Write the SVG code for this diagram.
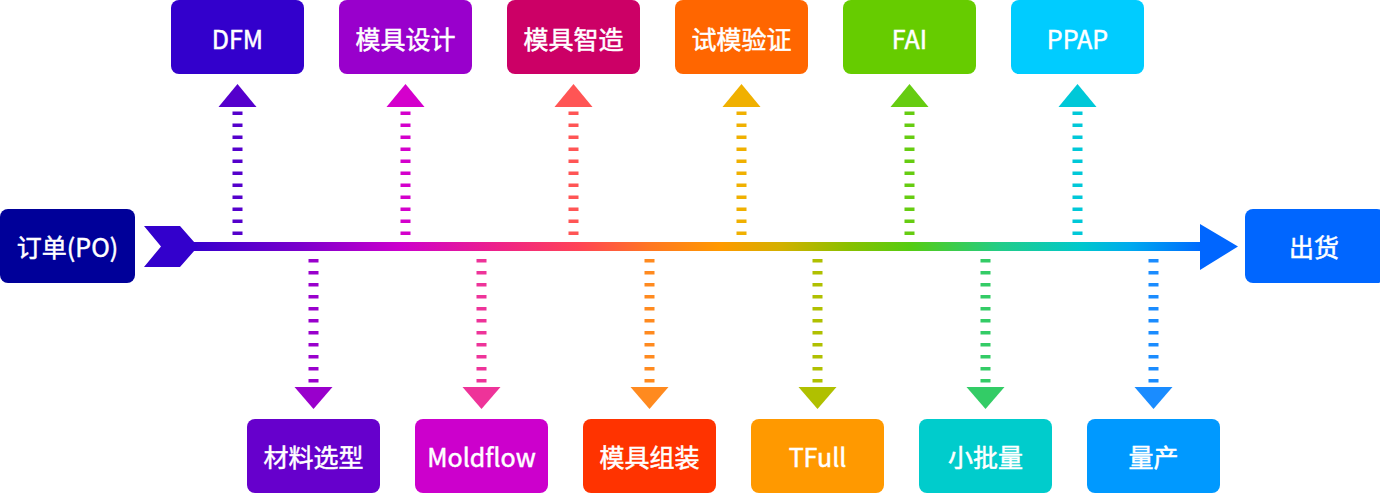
<svg xmlns="http://www.w3.org/2000/svg" width="1380" height="494" viewBox="0 0 1380 494">
<style>
.lbl{font-family:"Noto Sans CJK SC","Noto Sans",sans-serif;font-size:25px;font-weight:400;fill:#fff;stroke:#fff;stroke-width:0.5;text-anchor:middle;dominant-baseline:central}
.dash{fill:none;stroke-width:10;stroke-dasharray:3.5 8.5}
</style>
<defs>
<linearGradient id="main" gradientUnits="userSpaceOnUse" x1="190" y1="0" x2="1205" y2="0">
<stop offset="0" stop-color="#3300cc"/>
<stop offset="0.108" stop-color="#7a00cc"/>
<stop offset="0.207" stop-color="#cc00cc"/>
<stop offset="0.305" stop-color="#ee2288"/>
<stop offset="0.384" stop-color="#ff4455"/>
<stop offset="0.453" stop-color="#ff7722"/>
<stop offset="0.522" stop-color="#ff9900"/>
<stop offset="0.581" stop-color="#d4b000"/>
<stop offset="0.650" stop-color="#88c000"/>
<stop offset="0.709" stop-color="#55cc11"/>
<stop offset="0.798" stop-color="#22cc88"/>
<stop offset="0.877" stop-color="#00c8cc"/>
<stop offset="0.926" stop-color="#00aaee"/>
<stop offset="1" stop-color="#0066ff"/>
</linearGradient>
</defs>

<g id="connectors">
<rect x="190" y="242" width="1015" height="9" fill="url(#main)"/>
<polygon points="144,226 180,226 198,246.5 180,267 144,267 161,246.5" fill="#3300cc"/>
<polygon points="1200,224 1238,246.5 1200,270" fill="#0066ff"/>
<g>
<line class="dash" x1="237.5" y1="235" x2="237.5" y2="111" stroke="#5500cc"/>
<polygon points="237.5,84 256.5,107 218.5,107" fill="#5500cc"/>
<line class="dash" x1="405.5" y1="235" x2="405.5" y2="111" stroke="#d400cc"/>
<polygon points="405.5,84 424.5,107 386.5,107" fill="#d400cc"/>
<line class="dash" x1="573.5" y1="235" x2="573.5" y2="111" stroke="#ff5555"/>
<polygon points="573.5,84 592.5,107 554.5,107" fill="#ff5555"/>
<line class="dash" x1="741.5" y1="235" x2="741.5" y2="111" stroke="#f0b000"/>
<polygon points="741.5,84 760.5,107 722.5,107" fill="#f0b000"/>
<line class="dash" x1="909.5" y1="235" x2="909.5" y2="111" stroke="#66cc11"/>
<polygon points="909.5,84 928.5,107 890.5,107" fill="#66cc11"/>
<line class="dash" x1="1077.5" y1="235" x2="1077.5" y2="111" stroke="#00c8d8"/>
<polygon points="1077.5,84 1096.5,107 1058.5,107" fill="#00c8d8"/>
</g>
<g>
<line class="dash" x1="313.5" y1="259" x2="313.5" y2="383" stroke="#9900cc"/>
<polygon points="294.5,387 332.5,387 313.5,409" fill="#9900cc"/>
<line class="dash" x1="481.5" y1="259" x2="481.5" y2="383" stroke="#ee3399"/>
<polygon points="462.5,387 500.5,387 481.5,409" fill="#ee3399"/>
<line class="dash" x1="649.5" y1="259" x2="649.5" y2="383" stroke="#ff8a1f"/>
<polygon points="630.5,387 668.5,387 649.5,409" fill="#ff8a1f"/>
<line class="dash" x1="817.5" y1="259" x2="817.5" y2="383" stroke="#b0c000"/>
<polygon points="798.5,387 836.5,387 817.5,409" fill="#b0c000"/>
<line class="dash" x1="985.5" y1="259" x2="985.5" y2="383" stroke="#33cc66"/>
<polygon points="966.5,387 1004.5,387 985.5,409" fill="#33cc66"/>
<line class="dash" x1="1153.5" y1="259" x2="1153.5" y2="383" stroke="#1a8cff"/>
<polygon points="1134.5,387 1172.5,387 1153.5,409" fill="#1a8cff"/>
</g>
</g>

<g id="po"><rect x="0" y="209" width="135" height="74" rx="8" fill="#000099"/><text class="lbl" x="67.5" y="246">订单(PO)</text></g>
<g id="ship"><rect x="1245" y="209" width="140" height="74" rx="8" fill="#0066ff"/><text class="lbl" x="1314" y="246">出货</text></g>

<g id="dfm"><rect x="171" y="0" width="133" height="74" rx="8" fill="#3300cc"/><text class="lbl" x="237.5" y="38">DFM</text></g>
<g id="design"><rect x="339" y="0" width="133" height="74" rx="8" fill="#9900cc"/><text class="lbl" x="405.5" y="38">模具设计</text></g>
<g id="make"><rect x="507" y="0" width="133" height="74" rx="8" fill="#cc0066"/><text class="lbl" x="573.5" y="38">模具智造</text></g>
<g id="trial"><rect x="675" y="0" width="133" height="74" rx="8" fill="#ff6600"/><text class="lbl" x="741.5" y="38">试模验证</text></g>
<g id="fai"><rect x="843" y="0" width="133" height="74" rx="8" fill="#66cc00"/><text class="lbl" x="909.5" y="38">FAI</text></g>
<g id="ppap"><rect x="1011" y="0" width="133" height="74" rx="8" fill="#00ccff"/><text class="lbl" x="1077.5" y="38">PPAP</text></g>

<g id="material"><rect x="247" y="419" width="133" height="74" rx="8" fill="#6600cc"/><text class="lbl" x="313.5" y="456">材料选型</text></g>
<g id="moldflow"><rect x="415" y="419" width="133" height="74" rx="8" fill="#cc00cc"/><text class="lbl" x="481.5" y="456">Moldflow</text></g>
<g id="assembly"><rect x="583" y="419" width="133" height="74" rx="8" fill="#ff3300"/><text class="lbl" x="649.5" y="456">模具组装</text></g>
<g id="tfull"><rect x="751" y="419" width="133" height="74" rx="8" fill="#ff9900"/><text class="lbl" x="817.5" y="456">TFull</text></g>
<g id="smallbatch"><rect x="919" y="419" width="133" height="74" rx="8" fill="#00cccc"/><text class="lbl" x="985.5" y="456">小批量</text></g>
<g id="mass"><rect x="1087" y="419" width="133" height="74" rx="8" fill="#0099ff"/><text class="lbl" x="1153.5" y="456">量产</text></g>
</svg>
